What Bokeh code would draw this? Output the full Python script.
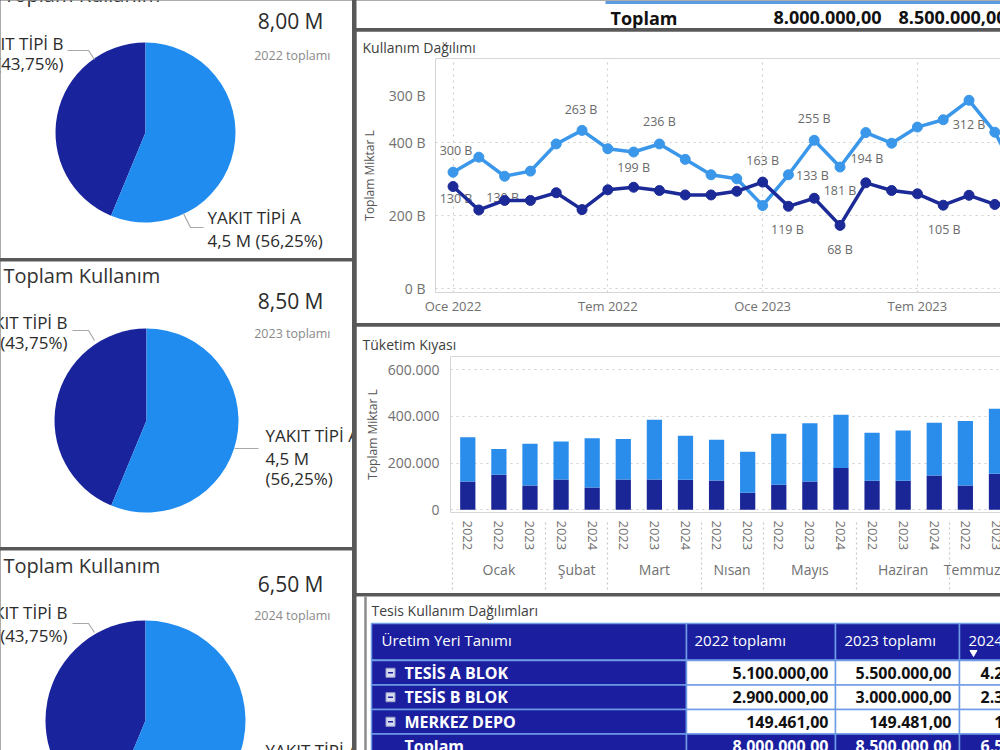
import numpy as np
from bokeh.plotting import figure
from bokeh.layouts import row, column
from bokeh.models import Range1d, FixedTicker, LinearAxis, ColumnDataSource
from bokeh.core.properties import value
from bokeh.embed import file_html
from bokeh.resources import INLINE

FONT = "Open Sans"
SEP = "#585858"
PIE_LIGHT = "#218cf0"
PIE_DARK = "#19249c"
LN_LIGHT = "#3a97e9"
LN_DARK = "#1c2a97"
BAR_LIGHT = "#2a8dec"
BAR_DARK = "#1a2696"
TBL_BLUE = "#1b1f9f"
TBL_LINE = "#6f9ce6"

# ---------------- data ----------------
pie_title = "Toplam Kullanım"
pie_years = ["2022", "2023", "2024"]
pie_totals = ["8,00 M", "8,50 M", "6,50 M"]
fuel_types = ["YAKIT TİPİ A", "YAKIT TİPİ B"]
fuel_amounts = ["4,5 M", "3,5 M"]
fuel_pcts = [56.25, 43.75]
fuel_pct_labels = ["(56,25%)", "(43,75%)"]

line_title = "Kullanım Dağılımı"
line_axis_title = "Toplam Miktar L"
line_ticks = [0, 6, 12, 18]
line_tick_labels = ["Oce 2022", "Tem 2022", "Oce 2023", "Tem 2023"]
line_y_ticks = [0, 200, 400, 527]
line_y_labels = ["0 B", "200 B", "400 B", "300 B"]
line_light = [318, 359, 307, 321, 395, 432, 382, 373, 395, 353, 311, 300,
              227, 311, 405, 332, 426, 397, 441, 461, 514, 427, 295]
line_dark = [279, 215, 241, 241, 262, 216, 270, 277, 268, 256, 256, 266,
             291, 225, 247, 173, 289, 268, 259, 228, 255, 230, 235]
lbl_text = ["300 B", "130 B", "130 B", "263 B", "199 B", "236 B", "163 B", "133 B",
            "119 B", "255 B", "181 B", "68 B", "194 B", "312 B", "105 B"]
lbl_series = ["L", "D", "D", "L", "L", "L", "D", "L", "D", "L", "L", "D", "L", "L", "D"]
lbl_index = [0, 0, 2, 5, 7, 8, 12, 13, 13, 14, 15, 15, 16, 20, 19]

bar_title = "Tüketim Kıyası"
bar_axis_title = "Toplam Miktar L"
bar_dark = [121000, 150000, 104000, 130000, 96000, 130000, 130000, 129000, 126000,
            73000, 107000, 121000, 179000, 124000, 124000, 147000, 104000, 154000]
bar_light = [190000, 111000, 179000, 163000, 211000, 173000, 256000, 188000, 174000,
             176000, 219000, 250000, 228000, 206000, 216000, 226000, 277000, 279000]
bar_years = ["2022", "2022", "2023", "2023", "2024", "2022", "2023", "2024", "2022",
             "2023", "2022", "2023", "2024", "2022", "2023", "2024", "2022", "2023"]
month_names = ["Ocak", "Şubat", "Mart", "Nısan", "Mayıs", "Haziran", "Temmuz"]
month_sizes = [3, 2, 3, 2, 3, 3, 3]
bar_y_ticks = [0, 200000, 400000, 600000]
bar_y_labels = ["0", "200.000", "400.000", "600.000"]

tbl_title = "Tesis Kullanım Dağılımları"
tbl_header = ["Üretim Yeri Tanımı", "2022 toplamı", "2023 toplamı", "2024 toplamı"]
tbl_rows = ["TESİS A BLOK", "TESİS B BLOK", "MERKEZ DEPO"]
tbl_2022 = ["5.100.000,00", "2.900.000,00", "149.461,00"]
tbl_2023 = ["5.500.000,00", "3.000.000,00", "149.481,00"]
tbl_2024 = ["4.200.000,00", "2.300.000,00", "175.000,00"]
tbl_total_label = "Toplam"
tbl_total = ["8.000.000,00", "8.500.000,00", "6.500.000,00"]


def no_align(p):
    try:
        p.frame_align = False
    except Exception:
        pass
    return p


def txt(p, x, y, s, size, color="#333333", align="left", bold=False, baseline="middle", angle=0.0):
    p.text(x=[x], y=[y], text=[s], text_font=value(FONT), text_font_size=f"{size}px",
           text_color=color, text_align=align, text_baseline=baseline,
           text_font_style="bold" if bold else "normal", angle=angle)


def blank(w, h, yflip=False):
    p = figure(width=w, height=h, x_range=Range1d(0, w),
               y_range=Range1d(h, 0) if yflip else Range1d(0, h),
               x_axis_location=None, y_axis_location=None, toolbar_location=None,
               output_backend="svg", min_border=0)
    p.grid.visible = False
    p.outline_line_color = None
    p.background_fill_color = "white"
    p.border_fill_color = "white"
    return no_align(p)


def style_axis(ax, size="14px"):
    ax.axis_line_color = None
    ax.major_tick_line_color = None
    ax.minor_tick_line_color = None
    ax.major_tick_out = 0
    ax.major_tick_in = 0
    ax.minor_tick_out = 0
    ax.minor_tick_in = 0
    ax.major_label_text_font = FONT
    ax.major_label_text_font_size = size
    ax.major_label_text_color = "#707070"


# ---------------- pie panels ----------------
pie_layouts = [
    dict(h=258, title=(3, -6), total=(323, 20), sub=(330, 55), pie=(145, 132, 90),
         bx=63, by=[43, 63], bl=[(67, 50), (88, 50), (94, 59)],
         ax=207, al=[(183, 213), (190, 227), (203, 227)], mode=0, ay=[217, 240]),
    dict(h=286, title=(3, 14), total=(323, 39), sub=(330, 72), pie=(146, 159, 92),
         bx=67, by=[61, 81], bl=[(72, 69), (88, 69), (94, 79)],
         ax=265, al=[(234, 187), (258, 187)], mode=1, ay=[174, 197, 217]),
    dict(h=200, title=(3, 15), total=(323, 33), sub=(330, 65), pie=(145, 170, 100),
         bx=67, by=[62, 85], bl=[(72, 73), (88, 73), (94, 82)],
         ax=265, al=[], mode=2, ay=[200]),
]


def pie_panel(i):
    L = pie_layouts[i]
    h = L["h"]
    p = blank(352, h)
    Y = lambda y: h - y
    txt(p, L["title"][0], Y(L["title"][1]), pie_title, 20, "#333333")
    txt(p, L["total"][0], Y(L["total"][1]), pie_totals[i], 21, "#2b2b2b", align="right")
    txt(p, L["sub"][0], Y(L["sub"][1]), f"{pie_years[i]} toplamı", 12.5, "#8a8a8a", align="right")
    cx, cy, r = L["pie"]
    a0 = np.pi / 2
    aB = a0 + 2 * np.pi * fuel_pcts[1] / 100.0
    p.wedge(x=[cx], y=[Y(cy)], radius=r, start_angle=a0, end_angle=aB,
            fill_color=PIE_DARK, line_color=None)
    p.wedge(x=[cx], y=[Y(cy)], radius=r, start_angle=aB, end_angle=a0 + 2 * np.pi,
            fill_color=PIE_LIGHT, line_color=None)
    txt(p, L["bx"], Y(L["by"][0]), fuel_types[1], 17, "#2b2b2b", align="right")
    txt(p, L["bx"], Y(L["by"][1]), f"{fuel_amounts[1]} {fuel_pct_labels[1]}", 17, "#2b2b2b", align="right")
    p.line([q[0] for q in L["bl"]], [Y(q[1]) for q in L["bl"]], line_color="#a8a8a8", line_width=1.2)
    if L["mode"] == 0:
        lines = [fuel_types[0], f"{fuel_amounts[0]} {fuel_pct_labels[0]}"]
    elif L["mode"] == 1:
        lines = [fuel_types[0], fuel_amounts[0], fuel_pct_labels[0]]
    else:
        lines = [fuel_types[0]]
    for s, yy in zip(lines, L["ay"]):
        txt(p, L["ax"], Y(yy), s, 17, "#2b2b2b")
    if L["al"]:
        p.line([q[0] for q in L["al"]], [Y(q[1]) for q in L["al"]], line_color="#a8a8a8", line_width=1.2)
    return p


p1, p2, p3 = pie_panel(0), pie_panel(1), pie_panel(2)

# ---------------- top strip (bottom of a table) ----------------
strip = blank(644, 28, yflip=True)
strip.line([249, 644], [2, 2], line_color="#5b9be0", line_width=3)
txt(strip, 254, 17, tbl_total_label, 18, "#111111", bold=True)
txt(strip, 525, 17, tbl_total[0], 18, "#111111", align="right", bold=True)
txt(strip, 650, 17, tbl_total[1], 18, "#111111", align="right", bold=True)

# ---------------- line chart ----------------
n = len(line_light)
idx = list(range(n))
pl = figure(width=644, height=292, x_range=Range1d(-0.68, 21.22), y_range=Range1d(-10, 628),
            toolbar_location=None, output_backend="svg", title=line_title,
            min_border_left=79, min_border_right=0, min_border_top=27, min_border_bottom=31)
no_align(pl)
pl.title.align = "left"
pl.title.offset = -73
pl.title.text_font = FONT
pl.title.text_font_size = "14px"
pl.title.text_font_style = "normal"
pl.title.text_color = "#404040"
pl.title.standoff = 4
pl.outline_line_color = None
for ax in pl.axis:
    style_axis(ax)
pl.xaxis.ticker = FixedTicker(ticks=line_ticks)
pl.xaxis.major_label_overrides = {t: s for t, s in zip(line_ticks, line_tick_labels)}
pl.yaxis.ticker = FixedTicker(ticks=line_y_ticks)
pl.yaxis.major_label_overrides = {t: s for t, s in zip(line_y_ticks, line_y_labels)}
pl.yaxis.axis_label = line_axis_title
pl.yaxis.axis_label_standoff = 8
pl.yaxis.axis_label_text_font = FONT
pl.yaxis.axis_label_text_font_size = "12px"
pl.yaxis.axis_label_text_font_style = "normal"
pl.yaxis.axis_label_text_color = "#555555"
pl.yaxis.major_label_standoff = 10
pl.xaxis.major_label_standoff = 4
pl.xaxis.major_label_text_font_size = "13px"
pl.ygrid.ticker = FixedTicker(ticks=[0, 200, 400])
pl.grid.grid_line_color = "#cfcfcf"
pl.grid.grid_line_dash = "2 4"
pl.grid.grid_line_width = 1.2

ser = {"L": line_light, "D": line_dark}
lsrc = ColumnDataSource(dict(
    x=lbl_index,
    y=[ser[s][i] for s, i in zip(lbl_series, lbl_index)],
    text=lbl_text,
    xo=[3, 3, -2, -1, 0, 0, 0, 24, -1, 0, 0, 0, 1, 0, 1],
    yo=[-22, 12, -3, -21, 15, -22, -22, 1, 23, -22, 23, 24, 26, 24, 24],
))
pl.text(x="x", y="y", text="text", x_offset="xo", y_offset="yo", source=lsrc,
        text_font=value(FONT), text_font_size="12.5px", text_color="#6a6a6a",
        text_align="center", text_baseline="middle")
pl.line(idx, line_light, line_color=LN_LIGHT, line_width=3.5)
pl.scatter(idx, line_light, size=10, fill_color=LN_LIGHT, line_color=LN_LIGHT)
pl.line(idx, line_dark, line_color=LN_DARK, line_width=3.5)
pl.scatter(idx, line_dark, size=10, fill_color=LN_DARK, line_color=LN_DARK)

# ---------------- bar chart ----------------
nb = len(bar_dark)
bidx = list(range(nb))
starts = np.cumsum([0] + month_sizes[:-1])
centers = [float(s + (m - 1) / 2.0) for s, m in zip(starts, month_sizes)]
bounds = [float(s - 0.5) for s in starts]
pb = figure(width=644, height=267, x_range=Range1d(-0.556, 17.13), y_range=Range1d(-11600, 657000),
            toolbar_location=None, output_backend="svg", title=bar_title,
            min_border_left=94, min_border_right=0, min_border_top=30, min_border_bottom=81)
no_align(pb)
pb.title.align = "left"
pb.title.offset = -88
pb.title.text_font = FONT
pb.title.text_font_size = "14px"
pb.title.text_font_style = "normal"
pb.title.text_color = "#404040"
pb.title.standoff = 5
pb.outline_line_color = None
bsrc = ColumnDataSource(dict(x=bidx, dark=bar_dark, light=bar_light))
pb.vbar_stack(["dark", "light"], x="x", width=0.49, source=bsrc,
              color=[BAR_DARK, BAR_LIGHT], line_color=None)
month_axis = LinearAxis(ticker=FixedTicker(ticks=centers),
                        major_label_overrides={c: m for c, m in zip(centers, month_names)})
pb.add_layout(month_axis, "below")
sep_axis = LinearAxis(ticker=FixedTicker(ticks=[], minor_ticks=bounds))
pb.add_layout(sep_axis, "below")
for ax in pb.axis:
    style_axis(ax)
pb.xaxis[0].ticker = FixedTicker(ticks=bidx)
pb.xaxis[0].major_label_overrides = {i: y for i, y in zip(bidx, bar_years)}
pb.xaxis[0].major_label_orientation = "vertical"
pb.xaxis[0].major_label_standoff = 8
pb.xaxis[0].major_label_text_font_size = "13px"
month_axis.major_label_standoff = 6
sep_axis.major_label_standoff = 0
sep_axis.minor_tick_line_color = "#c8c8c8"
sep_axis.minor_tick_line_dash = "2 3"
sep_axis.minor_tick_line_width = 1.2
sep_axis.minor_tick_in = 60
sep_axis.minor_tick_out = 8
pb.yaxis.ticker = FixedTicker(ticks=bar_y_ticks)
pb.yaxis.major_label_overrides = {t: s for t, s in zip(bar_y_ticks, bar_y_labels)}
pb.yaxis.axis_label = bar_axis_title
pb.yaxis.axis_label_standoff = 4
pb.yaxis.axis_label_text_font = FONT
pb.yaxis.axis_label_text_font_size = "12px"
pb.yaxis.axis_label_text_font_style = "normal"
pb.yaxis.axis_label_text_color = "#555555"
pb.yaxis.major_label_standoff = 11
pb.xgrid.visible = False
pb.ygrid.ticker = FixedTicker(ticks=bar_y_ticks)
pb.ygrid.grid_line_color = "#cfcfcf"
pb.ygrid.grid_line_dash = "2 4"
pb.ygrid.grid_line_width = 1.2

# ---------------- table ----------------
pt = blank(644, 154, yflip=True)
pt.line([9, 9], [0, 154], line_color="#8c8c8c", line_width=2.5)
txt(pt, 15, 14, tbl_title, 14, "#404040")
col_edges = [15, 330, 479, 603, 727]
row_tops = [27, 64, 88.5, 113, 137.5]
row_bots = [63.5, 88.5, 113, 137.5, 162]
L_, R_, T_, B_, F_ = [], [], [], [], []
for ri in range(5):
    for ci in range(4):
        L_.append(col_edges[ci]); R_.append(col_edges[ci + 1])
        T_.append(row_tops[ri]); B_.append(row_bots[ri])
        blue = ri == 0 or ri == 4 or ci == 0
        F_.append(TBL_BLUE if blue else "white")
pt.quad(left=L_, right=R_, top=T_, bottom=B_, fill_color=F_, line_color=TBL_LINE, line_width=1.5)
hx = [25, 338, 488, 612]
for s, x in zip(tbl_header, hx):
    txt(pt, x, 43, s, 15, "white")
pt.scatter([617], [56], marker="inverted_triangle", size=7, fill_color="white", line_color="white")
rmid = [(row_tops[i] + row_bots[i]) / 2 for i in range(1, 5)]
vals = list(zip(tbl_2022, tbl_2023, tbl_2024))
right_x = [472, 595, 720]
for ri, name in enumerate(tbl_rows):
    y = rmid[ri]
    pt.scatter([34], [y], marker="square", size=9, fill_color="#d7dbef", line_color="#9aa0c8")
    pt.scatter([34], [y], marker="dash", size=5, line_color="#1b1f9f", line_width=1.5)
    txt(pt, 48, y, name, 16, "white", bold=True)
    for v, x in zip(vals[ri], right_x):
        txt(pt, x, y, v, 16, "#111111", align="right", bold=True)
txt(pt, 48, rmid[3], tbl_total_label, 16, "white", bold=True)
for v, x in zip(tbl_total, right_x):
    txt(pt, x, rmid[3], v, 16, "white", align="right", bold=True)

# ---------------- layout ----------------
left = column(p1, p2, p3, spacing=3, styles={"background-color": SEP})
right = column(strip, pl, pb, pt, spacing=3, styles={"background-color": SEP})
page = row(left, right, spacing=4, styles={"background-color": SEP})

open("out.html", "w").write(file_html(page, INLINE))
